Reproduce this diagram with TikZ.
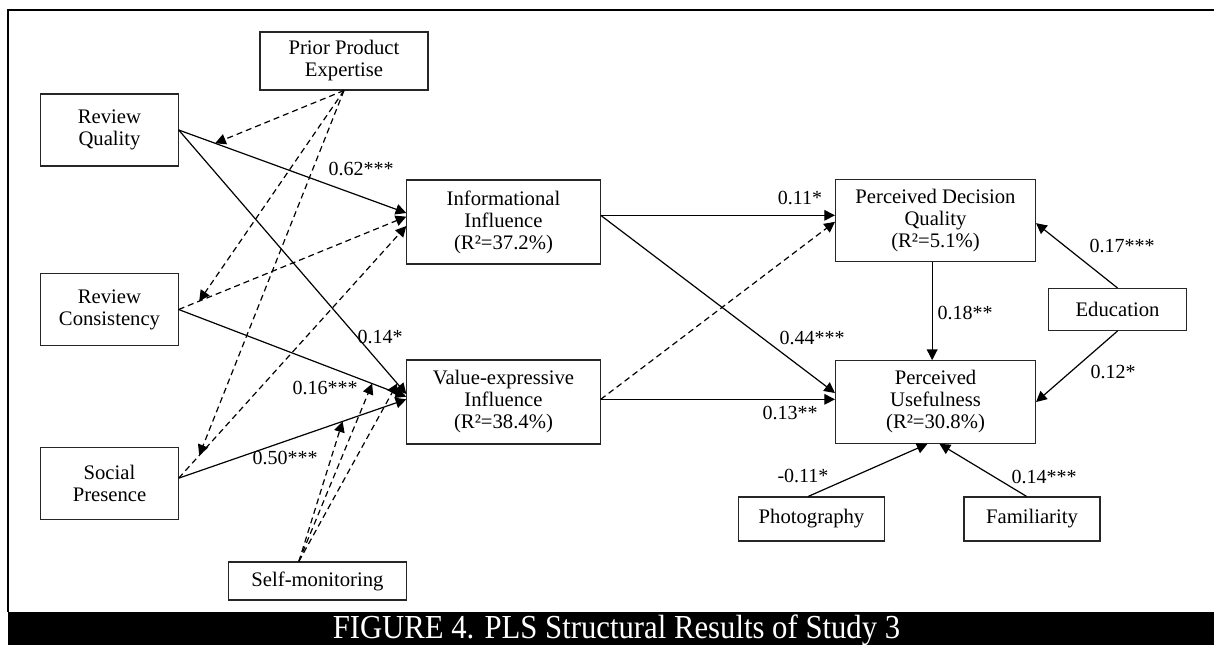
\documentclass[tikz,border=0pt]{standalone}
\usepackage{fontspec}
\setmainfont{Liberation Serif}
\usepackage{graphicx}
\usepackage{tikz}
\usetikzlibrary{arrows.meta}
\tikzset{
    box/.style = {rectangle, draw=black!85, fill=white, line width=0.8pt, align=center, inner sep=0pt, font=\fontsize{15.5}{16.5}\selectfont},
    arrow/.style = {line width=0.9pt, -{Triangle[length=8pt, width=8pt]}},
    dasharrow/.style = {arrow, dash pattern=on 4.5pt off 3pt},
    coef/.style = {inner sep=0pt, font=\fontsize{15}{16}\selectfont}
}

\begin{document}
\begin{tikzpicture}[x=0.75pt, y=-0.75pt]
\useasboundingbox (0,0) rectangle (1214,645);
% frame and caption bar
\draw [line width=1.5pt] (1214,10) -- (8,10) -- (8,612);
\fill (8,612) rectangle (1214,650);
\node (caption) [anchor=base, text=white, inner sep=0pt, font=\fontsize{24}{24}\selectfont] at (616.5,638.5) {\scalebox{0.96}[1.05]{FIGURE 4. PLS Structural Results of Study 3}};

% constructs
\node (ppe) [box, minimum width=126pt, minimum height=43.5pt] at (344,61) {Prior Product\\Expertise};
\node (rq) [box, minimum width=103pt, minimum height=54pt] at (109.5,130) {Review\\Quality};
\node (rc) [box, minimum width=103pt, minimum height=54pt] at (109.5,309.5) {Review\\Consistency};
\node (sp) [box, minimum width=103pt, minimum height=54pt] at (109.5,483.5) {Social\\Presence};
\node (sm) [box, minimum width=134pt, minimum height=28.5pt] at (317.5,581) {Self-monitoring};
\node (info) [box, minimum width=145pt, minimum height=63pt] at (503.5,222) {Informational\\Influence\\(R²=37.2\%)};
\node (vei) [box, minimum width=145pt, minimum height=63pt] at (503.5,402) {Value-expressive\\Influence\\(R²=38.4\%)};
\node (pdq) [box, minimum width=150pt, minimum height=62pt] at (935.5,220.5) {Perceived Decision\\Quality\\(R²=5.1\%)};
\node (pu) [box, minimum width=150pt, minimum height=62pt] at (935.5,402) {Perceived\\Usefulness\\(R²=30.8\%)};
\node (edu) [box, minimum width=103pt, minimum height=31.5pt] at (1117.5,309.5) {Education};
\node (photo) [box, minimum width=110pt, minimum height=33pt] at (811.5,519) {Photography};
\node (fam) [box, minimum width=102pt, minimum height=33pt] at (1032,519) {Familiarity};

% paths into the two influences
\draw [arrow] (rq.east) -- coordinate[pos=0.16] (rqinfo) ([yshift=6.75pt]info.west);
\draw [arrow] (rq.east) -- coordinate[pos=0.96] (rqvei) ([yshift=6pt]vei.west);
\draw [arrow] (rc.east) -- coordinate[pos=0.85] (rcvei) ([yshift=4pt]vei.west);
\draw [arrow] ([yshift=4pt]sp.east) -- coordinate[pos=0.72] (spvei) ([yshift=2pt]vei.west);
\draw [dasharrow] (rc.east) -- coordinate[pos=0.09] (rcinfo) ([yshift=4pt]info.west);
\draw [dasharrow] ([yshift=4pt]sp.east) -- coordinate[pos=0.09] (spinfo) ([yshift=-3pt]info.west);

% moderators
\draw [dasharrow] (ppe.south) -- (rqinfo);
\draw [dasharrow] (ppe.south) -- (rcinfo);
\draw [dasharrow] (ppe.south) -- (spinfo);
\draw [dasharrow] ([xshift=-14pt]sm.north) -- (spvei);
\draw [dasharrow] ([xshift=-14pt]sm.north) -- (rcvei);
\draw [dasharrow] ([xshift=-14pt]sm.north) -- (rqvei);

% paths into the outcomes
\draw [arrow] ([yshift=5pt]info.east) -- ([yshift=5pt]info.east -| pdq.west);
\draw [arrow] ([yshift=5pt]info.east) -- ([yshift=6.75pt]pu.west);
\draw [arrow] ([yshift=2pt]vei.east) -- ([yshift=2pt]pu.west);
\draw [dasharrow] ([yshift=2pt]vei.east) -- ([yshift=-1pt]pdq.west);
\draw [arrow] ([xshift=-2.5pt]pdq.south) -- ([xshift=-2.5pt]pu.north);
\draw [arrow] (edu.north) -- ([yshift=-2pt]pdq.east);
\draw [arrow] (edu.south) -- (pu.east);
\draw [arrow] ([xshift=-2.5pt]photo.north) -- ([xshift=-6pt]pu.south);
\draw [arrow] ([xshift=-4pt]fam.north) -- ([xshift=3pt]pu.south);

% coefficients
\node (c1) [coef] at (361,169) {0.62***};
\node (c2) [coef] at (380,337) {0.14*};
\node (c3) [coef] at (325,388) {0.16***};
\node (c4) [coef] at (285,458) {0.50***};
\node (c5) [coef] at (800,198) {0.11*};
\node (c6) [coef] at (812,338) {0.44***};
\node (c7) [coef] at (790,413) {0.13**};
\node (c8) [coef] at (965,313) {0.18**};
\node (c9) [coef] at (1122,246) {0.17***};
\node (c10) [coef] at (1113,372) {0.12*};
\node (c11) [coef] at (803,476) {-0.11*};
\node (c12) [coef] at (1044,477) {0.14***};
\end{tikzpicture}
\end{document}
